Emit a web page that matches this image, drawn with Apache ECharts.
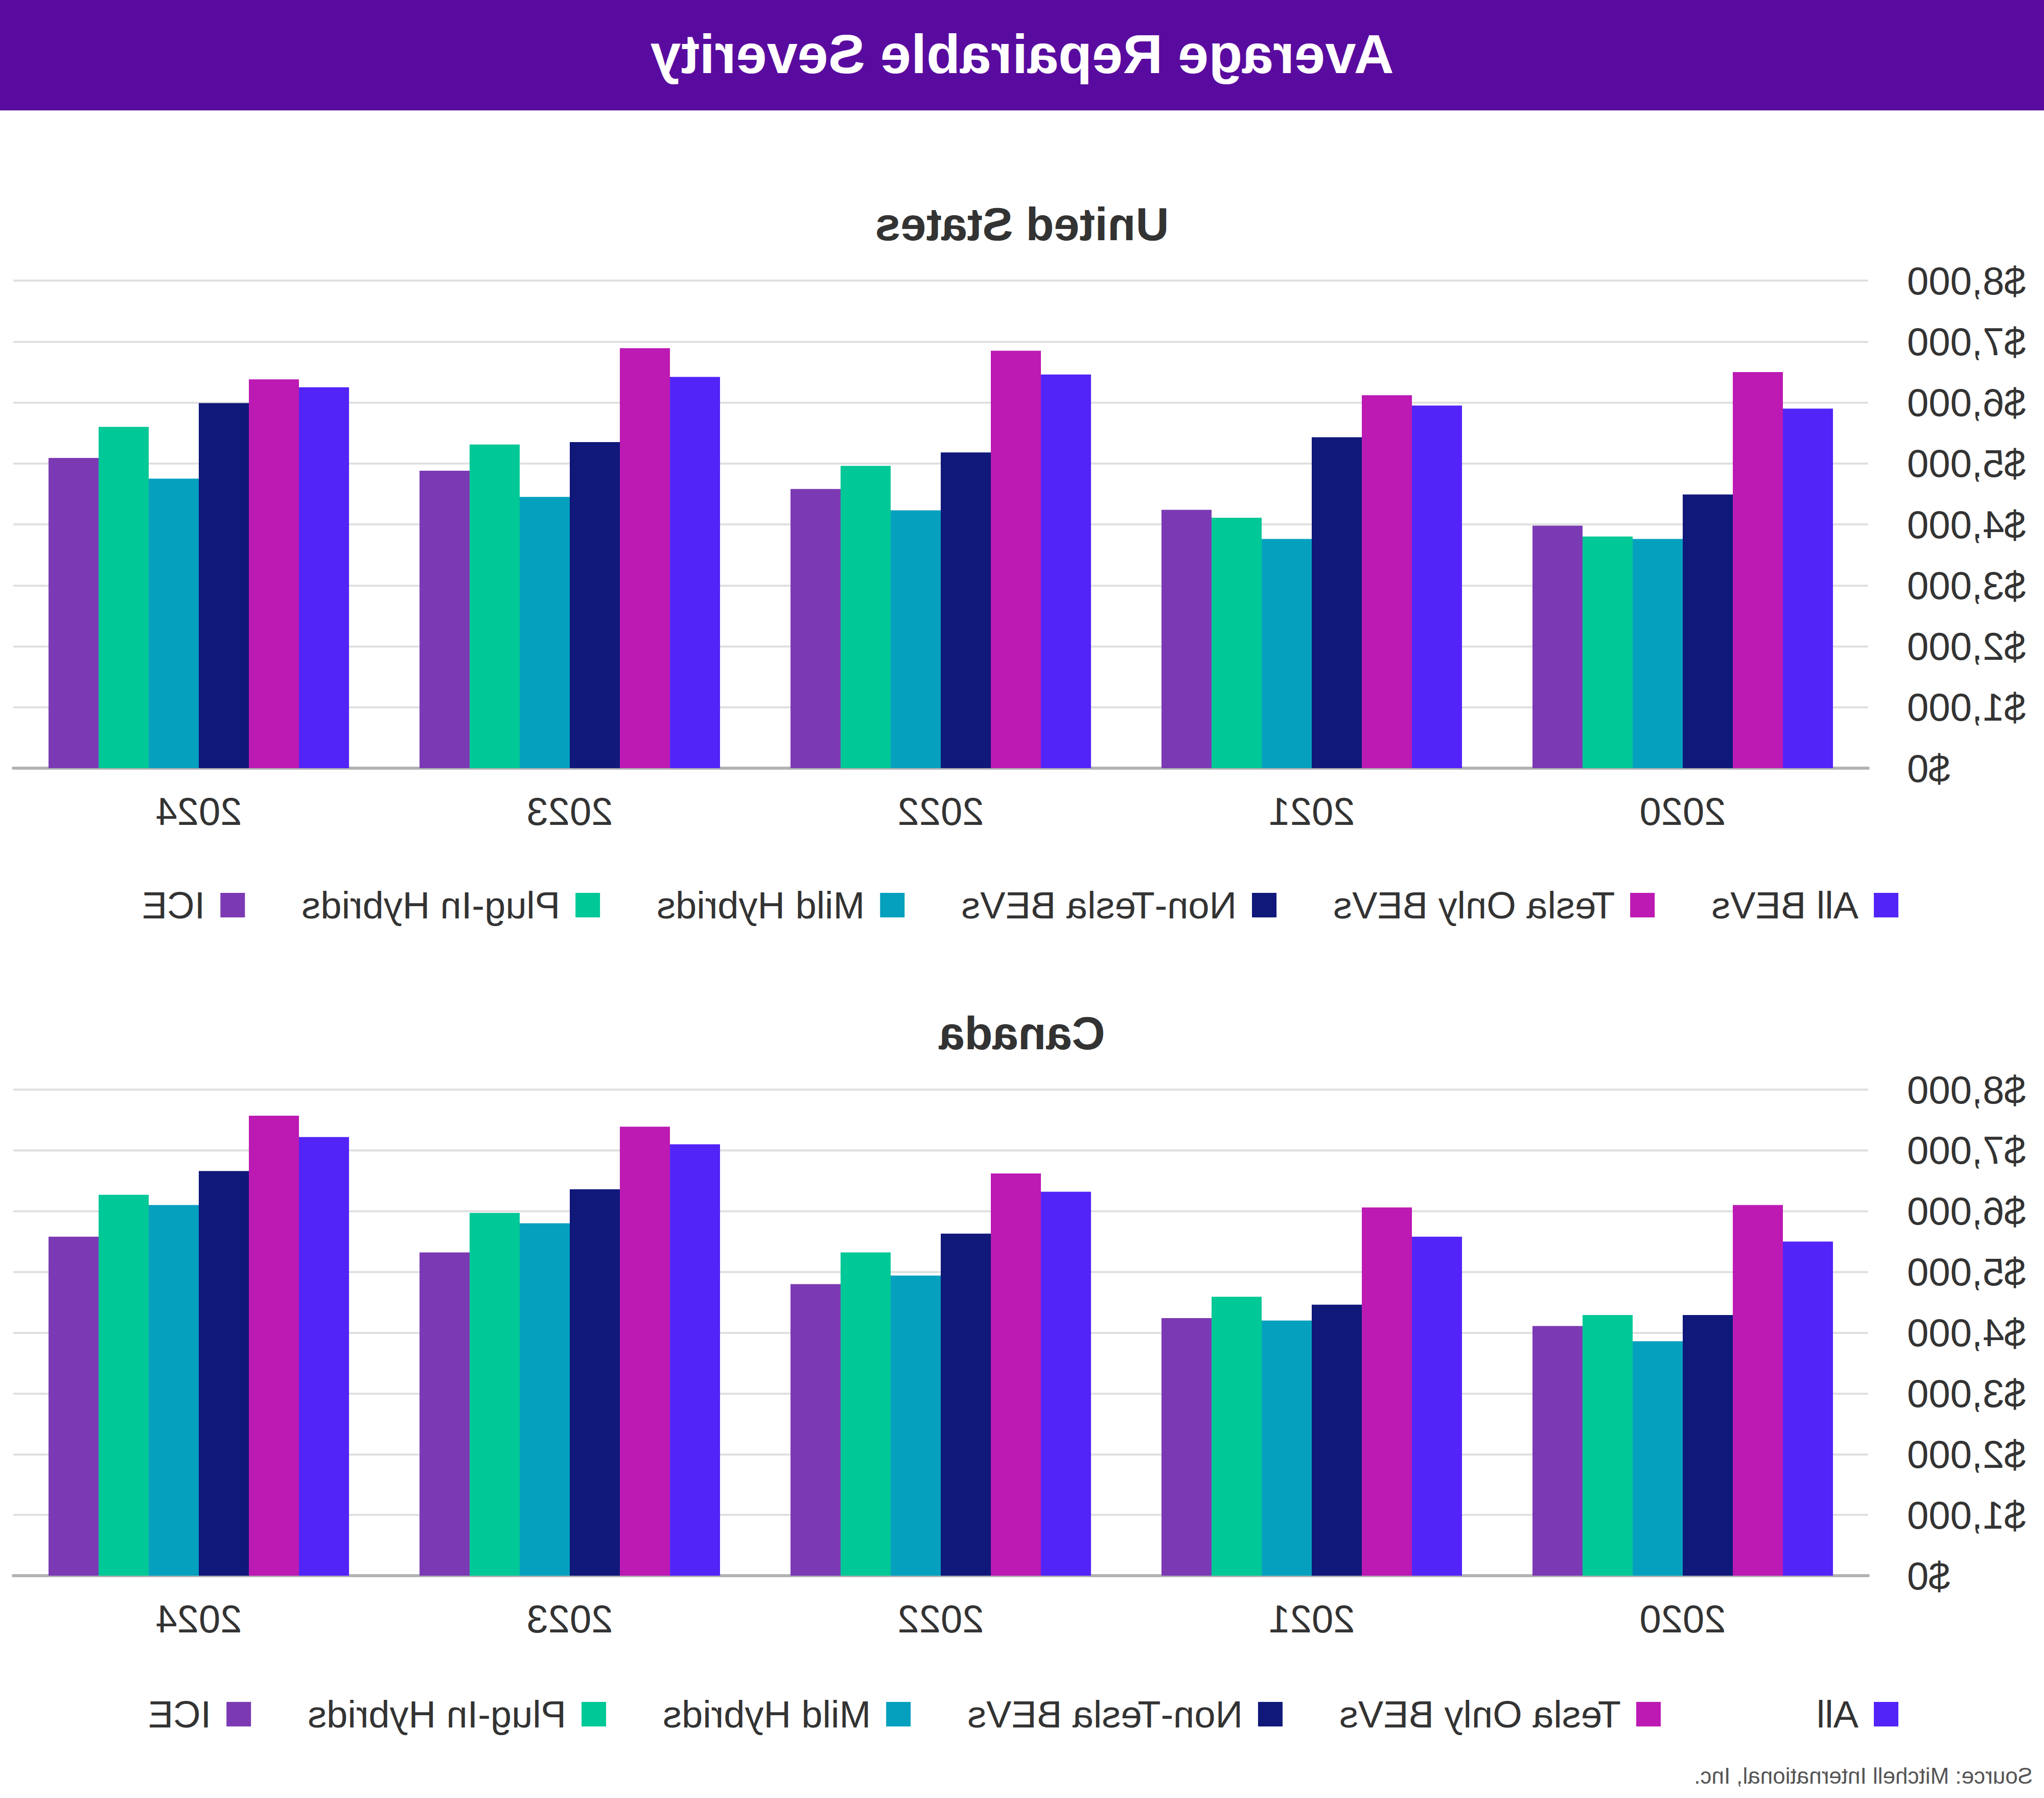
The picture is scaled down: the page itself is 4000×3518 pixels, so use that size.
<!DOCTYPE html>
<html>
<head>
<meta charset="utf-8">
<script src="https://cdn.jsdelivr.net/npm/echarts@6/dist/echarts.min.js"></script>
<style>
html,body{margin:0;padding:0;background:#fff;}
#wrap{width:4000px;height:3518px;transform:scaleX(-1);transform-origin:50% 50%;}
#chart{width:4000px;height:3518px;}
</style>
</head>
<body>
<div id="wrap"><div id="chart"></div></div>
<script>
// ---- data ----
const categories = ['2020', '2021', '2022', '2023', '2024'];
const usSeriesNames = ['All BEVs', 'Tesla Only BEVs', 'Non-Tesla BEVs', 'Mild Hybrids', 'Plug-In Hybrids', 'ICE'];
const caSeriesNames = ['All', 'Tesla Only BEVs', 'Non-Tesla BEVs', 'Mild Hybrids', 'Plug-In Hybrids', 'ICE'];

const usAllBEVs   = [5900, 5950, 6460, 6420, 6250];
const usTesla     = [6500, 6120, 6850, 6890, 6380];
const usNonTesla  = [4490, 5430, 5180, 5350, 5990];
const usMild      = [3760, 3760, 4230, 4450, 4750];
const usPlugIn    = [3800, 4110, 4960, 5310, 5600];
const usICE       = [3980, 4240, 4580, 4880, 5090];

const caAll       = [5500, 5580, 6320, 7100, 7220];
const caTesla     = [6100, 6060, 6620, 7390, 7570];
const caNonTesla  = [4290, 4460, 5630, 6360, 6660];
const caMild      = [3860, 4200, 4940, 5800, 6100];
const caPlugIn    = [4290, 4590, 5320, 5970, 6270];
const caICE       = [4110, 4240, 4800, 5320, 5580];

const yTicksMin = 0, yTicksMax = 8000, yTickStep = 1000;

const colors = ['#5224F8', '#BC1AB3', '#10187A', '#06A0BF', '#00C896', '#7B3AB3'];
const FONT = '"Liberation Sans", Arial, "Helvetica Neue", sans-serif';

const usData = [usAllBEVs, usTesla, usNonTesla, usMild, usPlugIn, usICE];
const caData = [caAll, caTesla, caNonTesla, caMild, caPlugIn, caICE];

function money(v) { return '$' + Number(v).toLocaleString('en-US'); }

function xAxisFor(gi) {
  return {
    type: 'category', gridIndex: gi, data: categories,
    axisTick: { show: false },
    axisLine: { lineStyle: { color: '#b3b3b3', width: 6 } },
    axisLabel: { fontSize: 76, color: '#333', margin: 46, fontFamily: FONT }
  };
}
function yAxisFor(gi) {
  return {
    type: 'value', gridIndex: gi, min: yTicksMin, max: yTicksMax, interval: yTickStep,
    axisLine: { show: false }, axisTick: { show: false },
    axisLabel: { fontSize: 76, color: '#333', margin: 76, fontFamily: FONT, formatter: money },
    splitLine: { lineStyle: { color: '#e0e0e0', width: 4 } }
  };
}

const series = [];
usSeriesNames.forEach((n, i) => series.push({
  name: n, type: 'bar', xAxisIndex: 0, yAxisIndex: 0, data: usData[i],
  itemStyle: { color: colors[i] }, barGap: '0%', barCategoryGap: '19%'
}));
caSeriesNames.forEach((n, i) => series.push({
  name: n, type: 'bar', xAxisIndex: 1, yAxisIndex: 1, data: caData[i],
  itemStyle: { color: colors[i] }, barGap: '0%', barCategoryGap: '19%'
}));

const legendText = { fontSize: 74, color: '#333', fontFamily: FONT, padding: [0, 0, 0, 25] };
const legendCommon = {
  orient: 'horizontal', icon: 'rect', itemWidth: 48, itemHeight: 48, itemGap: 111,
  selectedMode: false, textStyle: legendText
};

const option = {
  animation: false,
  backgroundColor: '#fff',
  graphic: [
    { type: 'rect', left: 0, top: 0, shape: { width: 4000, height: 216 }, style: { fill: '#5A0B9F' }, z: -1 },
    { type: 'text', left: 22, top: 3452, style: { text: 'Source: Mitchell International, Inc.', fontSize: 44, fill: '#555', fontFamily: FONT } }
  ],
  title: [
    { text: 'Average Repairable Severity', left: 'center', top: 46,
      textStyle: { color: '#fff', fontSize: 108, fontWeight: 'bold', fontFamily: FONT } },
    { text: 'United States', left: 'center', top: 389,
      textStyle: { color: '#333', fontSize: 90, fontWeight: 'bold', fontFamily: FONT } },
    { text: 'Canada', left: 'center', top: 1972,
      textStyle: { color: '#333', fontSize: 90, fontWeight: 'bold', fontFamily: FONT } }
  ],
  legend: [
    Object.assign({}, legendCommon, { left: 280, top: 1729, data: usSeriesNames.slice() }),
    Object.assign({}, legendCommon, { left: 280, top: 3312, data: caSeriesNames.slice(0, 1) }),
    Object.assign({}, legendCommon, { left: 745, top: 3312, data: caSeriesNames.slice(1) })
  ],
  grid: [
    { left: 344, right: 26, top: 549, height: 954 },
    { left: 344, right: 26, top: 2132, height: 951 }
  ],
  xAxis: [xAxisFor(0), xAxisFor(1)],
  yAxis: [yAxisFor(0), yAxisFor(1)],
  series: series
};

const chart = echarts.init(document.getElementById('chart'), null, { renderer: 'svg', width: 4000, height: 3518 });
chart.setOption(option);
</script>
</body>
</html>
